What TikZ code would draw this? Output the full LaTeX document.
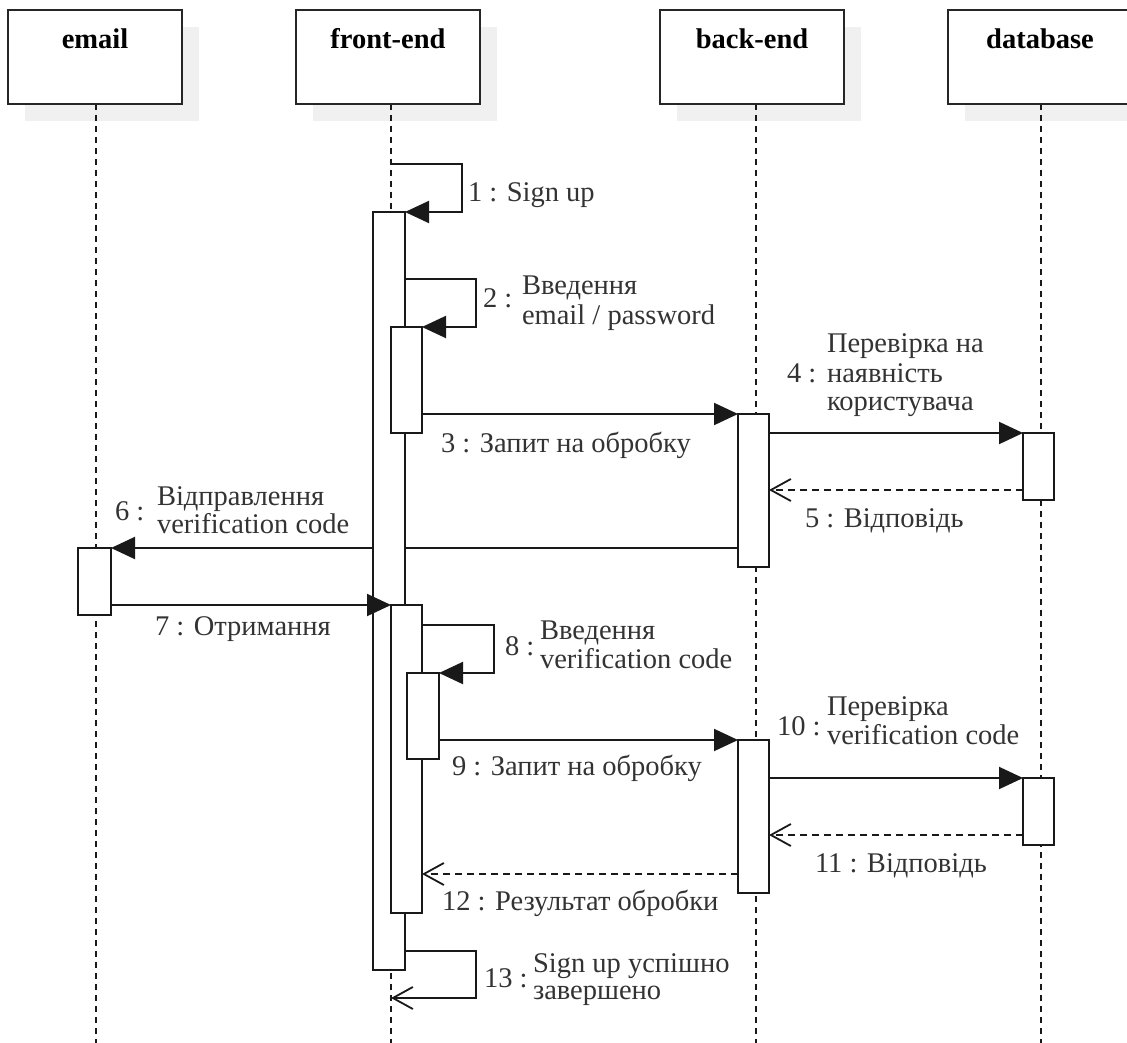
\documentclass[tikz,border=0pt]{standalone}
\usepackage{fontspec}
\setmainfont{Liberation Serif}
\usetikzlibrary{arrows.meta,calc,backgrounds}
\begin{document}
\begin{tikzpicture}[x=1pt,y=-1pt,
  every node/.style={inner sep=0pt, outer sep=0pt},
  head/.style={draw=black!85, line width=2pt, fill=white, minimum width=184pt, minimum height=94pt, anchor=north west},
  shadowbox/.style={fill=black!6, draw=none},
  act/.style={draw=black!90, line width=2pt, fill=white, minimum width=31pt, anchor=north west},
  life/.style={draw=black!90, line width=2pt, dash pattern=on 6pt off 5pt},
  call/.style={draw=black!90, line width=2pt, -{Triangle[length=24pt,width=22pt]}},
  openhead/.style={-{Straight Barb[length=20pt,width=22pt,line width=1.8pt]}},
  reply/.style={draw=black!90, line width=1.8pt, dash pattern=on 7pt off 5pt, openhead},
  selfret/.style={draw=black!90, line width=2pt, openhead},
  lbl/.style={font=\fontsize{28.5}{30}\selectfont, text=black!80, anchor=base west},
  htext/.style={font=\fontsize{28.5}{30}\selectfont\bfseries, anchor=base}
]
\useasboundingbox (0,0) rectangle (1127,1043);
\clip (0,0) rectangle (1127,1043);

% participant heads
\node[head, minimum width=174pt] (hemail) at (8,10) {};
\node[head] (hfe) at (296,10) {};
\node[head] (hbe) at (660,10) {};
\node[head] (hdb) at (948,10) {};
\node[htext] (temail) at (95,49) {email};
\node[htext] (tfe) at (388,49) {front-end};
\node[htext] (tbe) at (752,49) {back-end};
\node[htext] (tdb) at (1040,49) {database};

% lifeline tops
\coordinate (le) at (96,104);
\coordinate (lf) at (391,104);
\coordinate (lb) at (756,104);
\coordinate (ld) at (1041,104);

% activation bars
\node[act, minimum width=32pt, minimum height=758pt] (fmain) at (373,212) {};
\node[act, minimum height=106pt] (fn1) at (391,327) {};
\node[act, minimum width=33pt, minimum height=67pt] (e1) at (78,548) {};
% message 7 arrives over the outer front-end bar
\draw[call] (e1.east |- 0,605) coordinate (m7s) -- (391,605) coordinate (m7e);
\node[act, minimum height=308pt] (fn2) at (m7e) {};
\node[act, minimum width=32pt, minimum height=86pt] (fn3) at (407,673) {};
\node[act, minimum height=153pt] (b1) at (738,414) {};
\node[act, minimum height=153pt] (b2) at (738,740) {};
\node[act, minimum height=67pt] (d1) at (1023,433) {};
\node[act, minimum height=67pt] (d2) at (1023,778) {};

\begin{scope}[on background layer]
  % head shadows
  \foreach \h in {hemail,hfe,hbe,hdb}
    \fill[shadowbox] ($(\h.north west)+(17,17)$) rectangle ($(\h.south east)+(17,17)$);
  % lifelines
  \foreach \l in {le,lf,lb,ld}
    \draw[life] (\l) -- ++(0,940);
  % messages
  \draw[call] ($(fmain.north)+(1.5,-48)$) -- ++(71,0) |- (fmain.north east);
  \draw[call] ($(fmain.north east)+(0,67)$) -- ++(71,0) |- (fn1.north east);
  \draw[call] (fn1.east |- b1.north west) -- (b1.north west);
  \draw[call] (b1.east |- d1.north west) -- (d1.north west);
  \draw[reply] ($(d1.south west)+(0,-10)$) coordinate (m5s) -- (b1.east |- m5s);
  \draw[call] (b1.west |- e1.north east) -- (e1.north east);
  \draw[call] ($(fn2.north east)+(0,20)$) -- ++(72,0) |- (fn3.north east);
  \draw[call] (fn3.east |- b2.north west) -- (b2.north west);
  \draw[call] (b2.east |- d2.north west) -- (d2.north west);
  \draw[reply] ($(d2.south west)+(0,-10)$) coordinate (m11s) -- (b2.east |- m11s);
  \draw[reply] ($(b2.south west)+(0,-19)$) coordinate (m12s) -- (fn2.east |- m12s);
  \draw[selfret] ($(fmain.south east)+(0,-19)$) -- ++(71,0) |- ($(fmain.south)+(2,28)$);
\end{scope}

% message labels
\node[lbl] (l1) at (468,202) {1 : Sign up};
\node[lbl] (l2n) at (483,307) {2 :};
\node[lbl] (l2a) at (522,294) {Введення};
\node[lbl] (l2b) at (522,324) {email / password};
\node[lbl] (l3) at (441,452) {3 : Запит на обробку};
\node[lbl] (l4n) at (787,382) {4 :};
\node[lbl] (l4a) at (827,352) {Перевірка на};
\node[lbl] (l4b) at (827,382) {наявність};
\node[lbl] (l4c) at (827,410) {користувача};
\node[lbl] (l5) at (805,527) {5 : Відповідь};
\node[lbl] (l6n) at (115,520) {6 :};
\node[lbl] (l6a) at (157,505) {Відправлення};
\node[lbl] (l6b) at (157,533) {verification code};
\node[lbl] (l7) at (155,635) {7 : Отримання};
\node[lbl] (l8n) at (505,655) {8 :};
\node[lbl] (l8a) at (540,639) {Введення};
\node[lbl] (l8b) at (540,668) {verification code};
\node[lbl] (l9) at (452,775) {9 : Запит на обробку};
\node[lbl] (l10n) at (777,735) {10 :};
\node[lbl] (l10a) at (827,715) {Перевірка};
\node[lbl] (l10b) at (827,744) {verification code};
\node[lbl] (l11) at (815,872) {11 : Відповідь};
\node[lbl] (l12) at (442,910) {12 : Результат обробки};
\node[lbl] (l13n) at (484,987) {13 :};
\node[lbl] (l13a) at (533,972) {Sign up успішно};
\node[lbl] (l13b) at (533,999) {завершено};
\end{tikzpicture}
\end{document}
